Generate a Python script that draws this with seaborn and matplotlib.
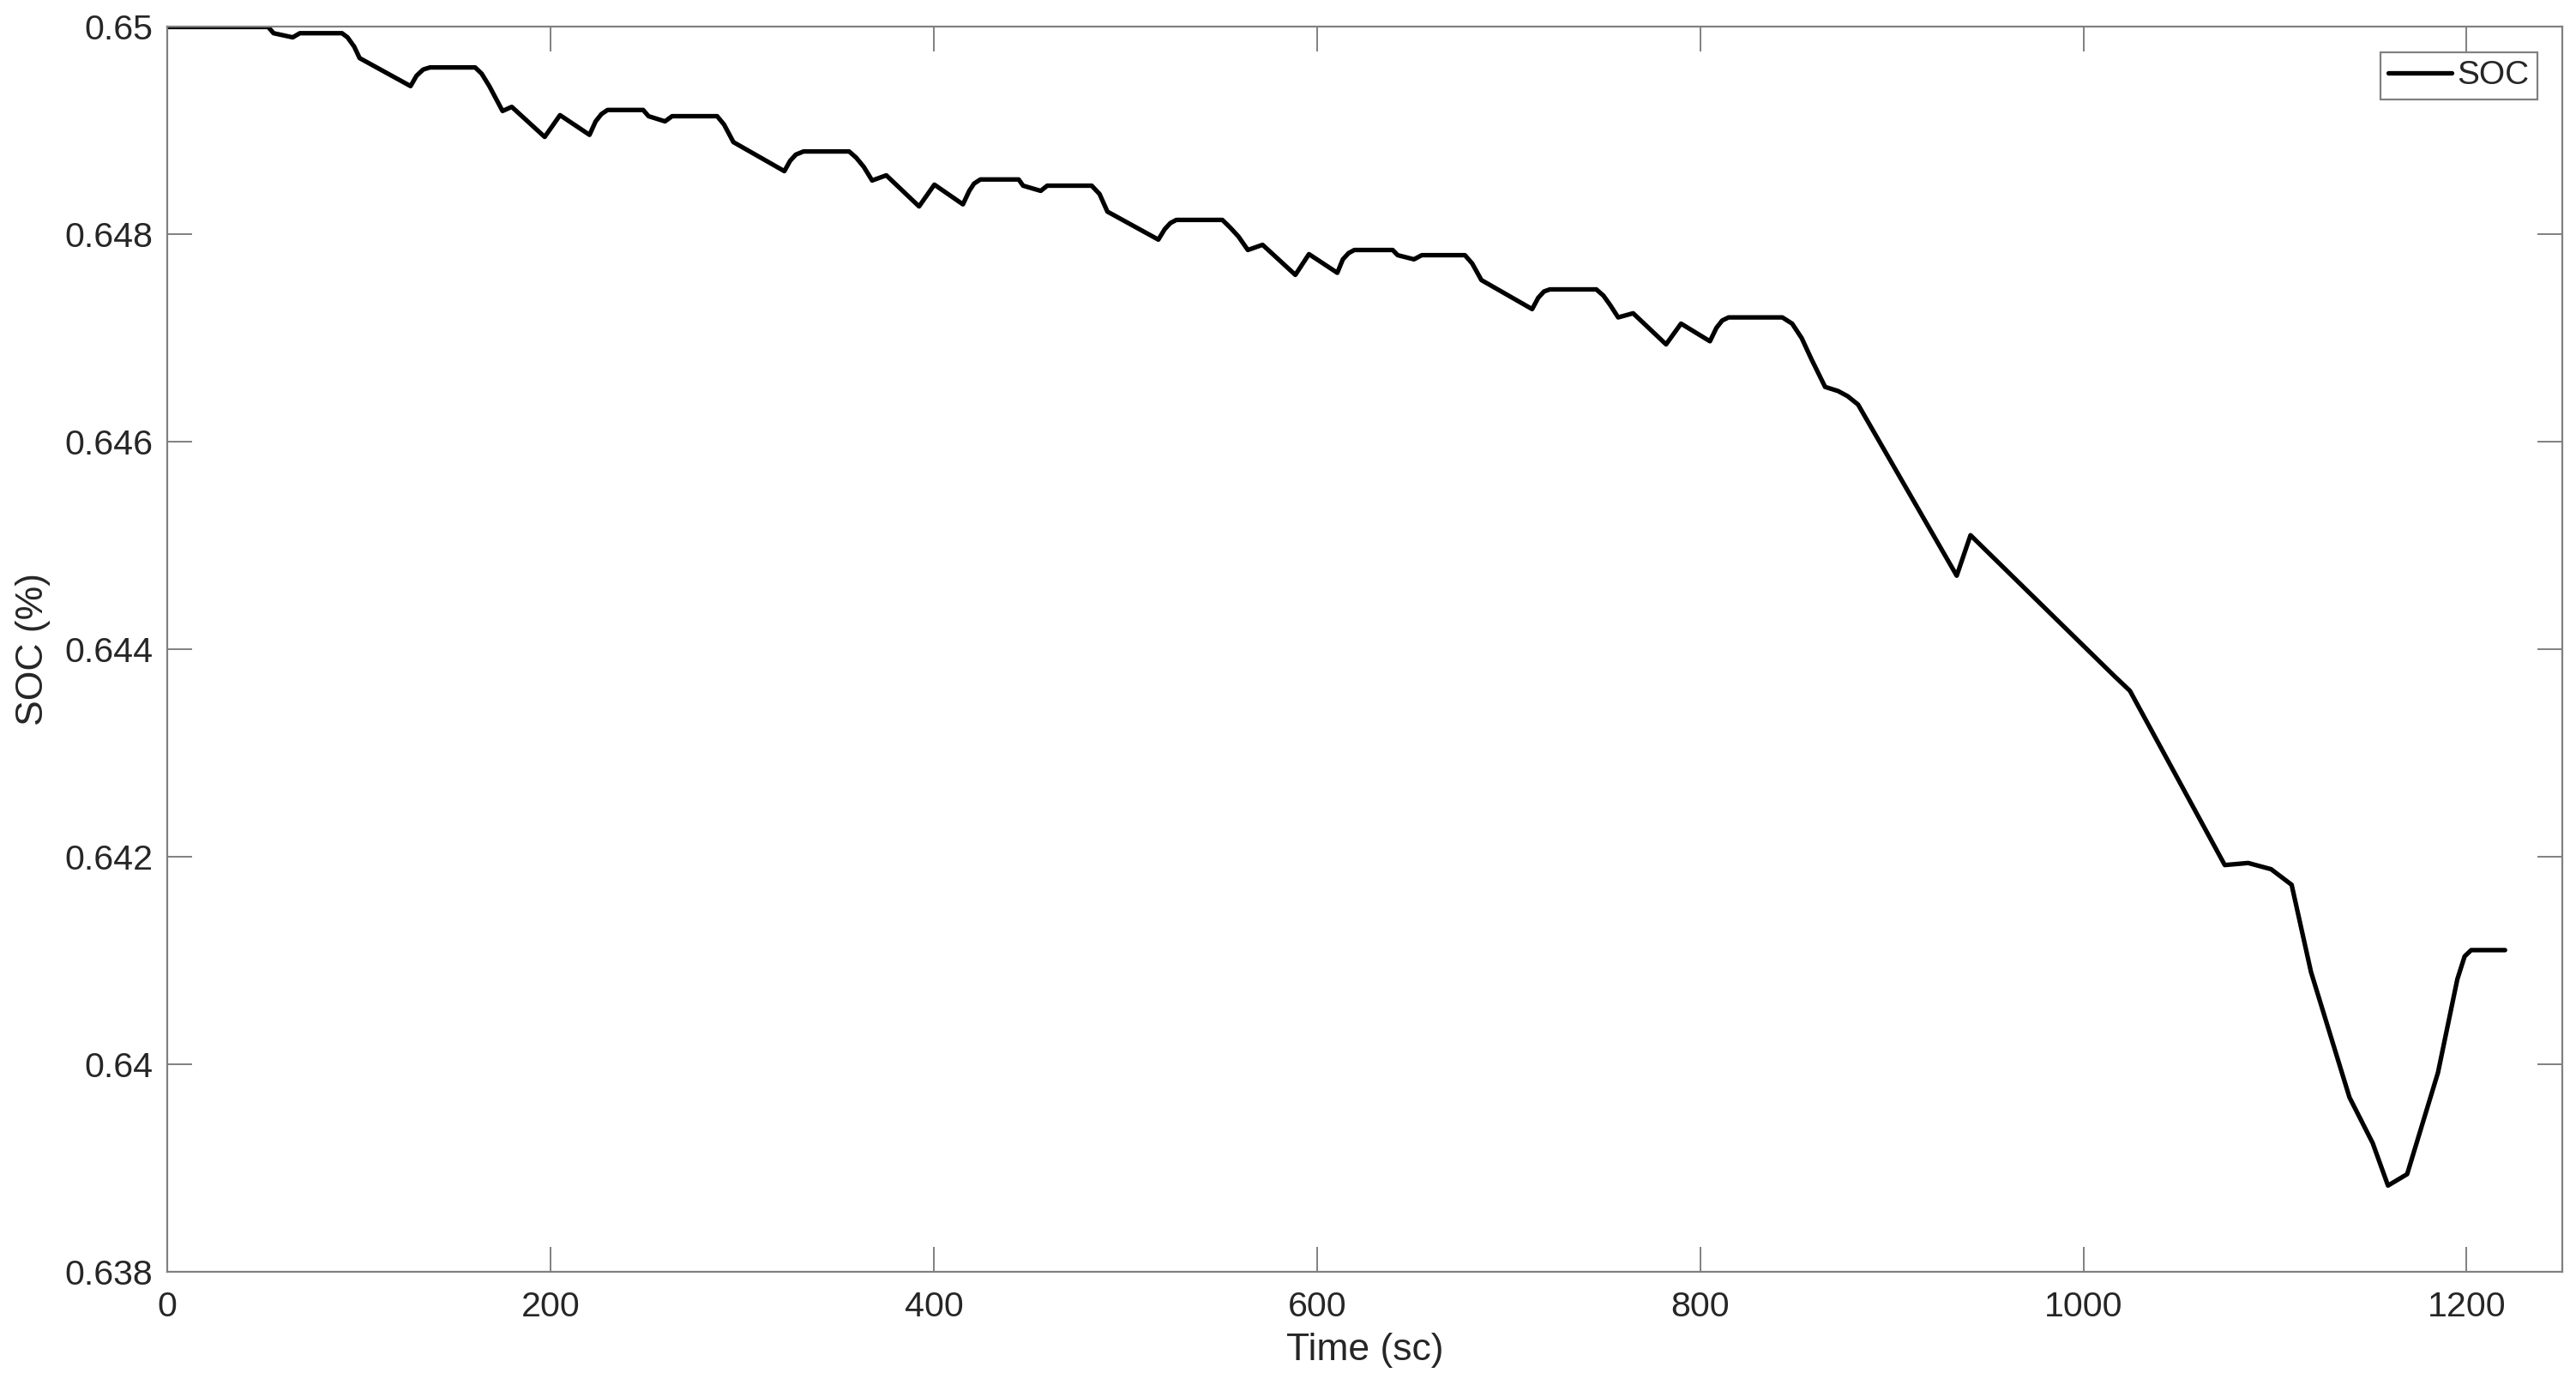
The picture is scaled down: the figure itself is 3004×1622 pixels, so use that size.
import numpy as np
import pandas as pd
import matplotlib
matplotlib.use("Agg")
import matplotlib.pyplot as plt
import seaborn as sns

# ---- data ----
time_s = [0, 52.6, 55.4, 65.4, 69.1, 91.1, 94, 97.5, 100.3, 126.9, 130, 133.5, 137,
          160.6, 164, 168, 174.9, 179.7, 196.9, 204.9, 220.3, 223.5, 226.5, 229.7,
          248.3, 251.1, 259.7, 263.4, 286.9, 290.5, 295.4, 322, 325, 328, 332,
          355.8, 359.5, 363.5, 367.8, 375.2, 392.3, 400.3, 415.2, 418.5, 421, 424.3,
          444.3, 446.6, 455.8, 459.2, 482.4, 486.5, 490.6, 517.2, 520.5, 523.5, 526.6,
          550.6, 554.5, 559, 563.9, 571.6, 588.7, 595.8, 610.6, 613.5, 616.5, 619.5,
          639.5, 642.1, 650.6, 654.7, 677.2, 681, 685.8, 712.3, 715.5, 718.5, 721.5,
          745.8, 749.5, 753, 757.2, 765, 782.2, 790, 805.1, 808.5, 811.5, 814.8,
          842.9, 848, 853, 858, 865.2, 872, 877, 882.4, 933.9, 941.1, 1016.3, 1024.3,
          1073.8, 1086, 1098, 1108.7, 1118.8, 1138.9, 1151, 1159, 1169, 1185.1,
          1195.2, 1199, 1202.4, 1220.1]

soc = [0.65, 0.65, 0.64994, 0.64990, 0.64994, 0.64994, 0.64990, 0.64981, 0.64970,
       0.64943, 0.64953, 0.64959, 0.64961, 0.64961, 0.64955, 0.64943, 0.64919,
       0.64923, 0.64894, 0.64915, 0.64896, 0.64909, 0.64916, 0.64920, 0.64920,
       0.64914, 0.64909, 0.64914, 0.64914, 0.64906, 0.64889, 0.64861, 0.64871,
       0.64877, 0.64880, 0.64880, 0.64874, 0.64865, 0.64852, 0.64857, 0.64827,
       0.64848, 0.64829, 0.64842, 0.64849, 0.64853, 0.64853, 0.64847, 0.64842,
       0.64847, 0.64847, 0.64839, 0.64822, 0.64795, 0.64805, 0.64811, 0.64814,
       0.64814, 0.64807, 0.64798, 0.64785, 0.64790, 0.64761, 0.64781, 0.64763,
       0.64776, 0.64782, 0.64785, 0.64785, 0.64780, 0.64776, 0.64780, 0.64780,
       0.64772, 0.64756, 0.64728, 0.64739, 0.64745, 0.64747, 0.64747, 0.64741,
       0.64732, 0.64720, 0.64724, 0.64694, 0.64714, 0.64697, 0.64710, 0.64717,
       0.64720, 0.64720, 0.64714, 0.64700, 0.64680, 0.64653, 0.64649, 0.64644,
       0.64636, 0.64471, 0.64510, 0.64374, 0.64360, 0.64192, 0.64194, 0.64188,
       0.64173, 0.64089, 0.63968, 0.63924, 0.63883, 0.63894, 0.63992, 0.64082,
       0.64104, 0.64110, 0.64110]

x_ticks = [0, 200, 400, 600, 800, 1000, 1200]
y_ticks = [0.638, 0.64, 0.642, 0.644, 0.646, 0.648, 0.65]
y_tick_labels = ["0.638", "0.64", "0.642", "0.644", "0.646", "0.648", "0.65"]
series_name = "SOC"

df = pd.DataFrame({"Time": time_s, "SOC": soc, "series": series_name})

sns.set_style("white")
plt.rcParams["font.family"] = ["Liberation Sans", "DejaVu Sans"]

fig = plt.figure(figsize=(15.02, 8.11), dpi=200)
ax = fig.add_axes([0.065, 0.0858, 0.9297, 0.8948])

sns.lineplot(data=df, x="Time", y="SOC", hue="series", palette=["black"],
             sort=False, estimator=None, linewidth=1.9, ax=ax)

axis_col = "#808080"
text_col = "#262626"
ax.set_xlim(0, 1250)
ax.set_ylim(0.638, 0.65)
ax.set_xticks(x_ticks)
ax.set_xticklabels([str(v) for v in x_ticks])
ax.set_yticks(y_ticks)
ax.set_yticklabels(y_tick_labels)
ax.tick_params(axis="both", direction="in", length=10.5, width=0.7, color=axis_col,
               labelsize=14.8, labelcolor=text_col, top=True, right=True,
               bottom=True, left=True)
ax.tick_params(axis="x", pad=8)
ax.tick_params(axis="y", pad=6)
for s in ax.spines.values():
    s.set_visible(True)
    s.set_color(axis_col)
    s.set_linewidth(0.8)

ax.set_xlabel("Time (sc)", fontsize=16, color=text_col, labelpad=4)
ax.set_ylabel("SOC (%)", fontsize=16, color=text_col, labelpad=6)

leg = ax.legend(loc="upper right", frameon=True, fancybox=False, fontsize=14,
                handlelength=1.9, handletextpad=0.15, borderpad=0.25,
                borderaxespad=0.75, framealpha=1)
leg.get_frame().set_edgecolor(axis_col)
leg.get_frame().set_linewidth(0.8)

fig.savefig("out.png", dpi=200, facecolor="white")
